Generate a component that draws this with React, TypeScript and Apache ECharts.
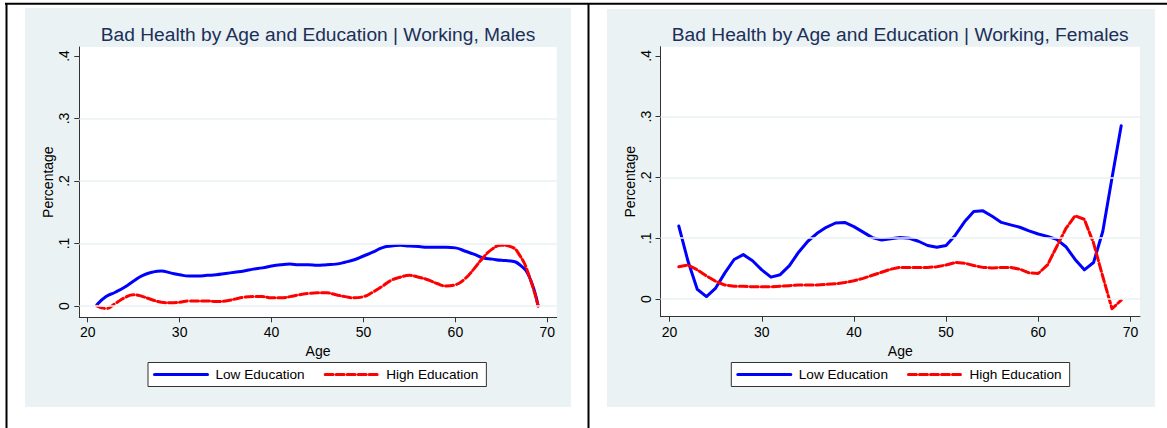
import React, { useEffect, useRef } from 'react';
import * as echarts from 'echarts';

const ages = [
  21, 22, 23, 24, 25, 26, 27, 28, 29, 30, 31, 32, 33, 34, 35, 36, 37, 38, 39, 40, 41, 42, 43, 44, 45,
  46, 47, 48, 49, 50, 51, 52, 53, 54, 55, 56, 57, 58, 59, 60, 61, 62, 63, 64, 65, 66, 67, 68, 69,
];

const maleLow = [
  0.002, 0.015, 0.022, 0.03, 0.04, 0.049, 0.054, 0.056, 0.053, 0.05, 0.048, 0.048, 0.049, 0.05, 0.052,
  0.054, 0.056, 0.059, 0.061, 0.064, 0.066, 0.067, 0.066, 0.066, 0.065, 0.066, 0.067, 0.07, 0.074, 0.08,
  0.086, 0.093, 0.096, 0.097, 0.096, 0.095, 0.094, 0.094, 0.094, 0.093, 0.088, 0.083, 0.077, 0.075,
  0.073, 0.072, 0.066, 0.048, 0.0,
];
const maleHigh = [
  0.0, -0.004, 0.004, 0.013, 0.018, 0.015, 0.01, 0.006, 0.005, 0.006, 0.008, 0.008, 0.008, 0.007, 0.008,
  0.011, 0.014, 0.015, 0.015, 0.013, 0.013, 0.015, 0.018, 0.02, 0.021, 0.021, 0.018, 0.015, 0.013, 0.015,
  0.022, 0.031, 0.041, 0.046, 0.049, 0.046, 0.042, 0.036, 0.032, 0.034, 0.043, 0.059, 0.077, 0.091,
  0.097, 0.095, 0.081, 0.049, 0.0,
];
const femaleLow = [
  0.12, 0.062, 0.016, 0.004, 0.018, 0.043, 0.065, 0.073, 0.063, 0.048, 0.036, 0.04, 0.055, 0.077, 0.095,
  0.108, 0.118, 0.125, 0.126, 0.119, 0.11, 0.101, 0.097, 0.099, 0.101, 0.1, 0.095, 0.088, 0.085, 0.088,
  0.105, 0.127, 0.144, 0.145, 0.136, 0.126, 0.122, 0.118, 0.112, 0.107, 0.103, 0.098, 0.086, 0.065,
  0.048, 0.06, 0.111, 0.199, 0.285,
];
const femaleHigh = [
  0.053, 0.056, 0.048, 0.038, 0.029, 0.023, 0.021, 0.021, 0.02, 0.02, 0.02, 0.021, 0.022, 0.023, 0.023,
  0.023, 0.024, 0.025, 0.027, 0.03, 0.034, 0.039, 0.044, 0.049, 0.052, 0.052, 0.052, 0.052, 0.053, 0.056,
  0.06, 0.059, 0.055, 0.052, 0.051, 0.052, 0.052, 0.049, 0.043, 0.042, 0.056, 0.086, 0.116, 0.137,
  0.131, 0.092, 0.037, -0.016, -0.002,
];

const xTicks = [20, 30, 40, 50, 60, 70];
const yTicks = [0, 0.1, 0.2, 0.3, 0.4];
const gridLines = [0, 0.1, 0.2, 0.3];
const titles = [
  'Bad Health by Age and Education | Working, Males',
  'Bad Health by Age and Education | Working, Females',
];
const seriesNames = ['Low Education', 'High Education'];

const FONT = "'Liberation Sans', Arial, sans-serif";
const BG = '#EAF2F3';
const AXIS = '#333';

const App = () => {
  const chartRef = useRef(null);

  useEffect(() => {
    const chart = echarts.init(chartRef.current, null, { renderer: 'svg' });

    // plot regions, in page pixels
    const panels = [
      { left: 79.3, top: 47, width: 477.4, height: 270.3, xMin: 19.086, xMax: 71.02, yMin: -0.0181, yMax: 0.4144 },
      { left: 660.5, top: 46.7, width: 479.5, height: 270, xMin: 19.013, xMax: 71.04, yMin: -0.0291, yMax: 0.415 },
    ];

    const yFmt = (v) => (v === 0 ? '0' : String(v).replace(/^0\./, '.'));

    const pair = (ys) => ages.map((a, i) => [a, ys[i]]);
    const lineSeries = (name, idx, ys, smooth) => ({
      name,
      type: 'line',
      xAxisIndex: idx,
      yAxisIndex: idx,
      data: pair(ys),
      symbol: 'none',
      smooth,
      z: 3,
      lineStyle: {
        color: name === 'Low Education' ? '#0000FF' : '#FF0000',
        width: 3,
        type: name === 'Low Education' ? 'solid' : [8, 3],
        cap: 'round',
        join: 'round',
      },
      itemStyle: { color: name === 'Low Education' ? '#0000FF' : '#FF0000' },
    });
    const gridSeries = (idx) => ({
      type: 'line',
      xAxisIndex: idx,
      yAxisIndex: idx,
      data: [],
      z: 1,
      silent: true,
      markLine: {
        silent: true,
        symbol: ['none', 'none'],
        label: { show: false },
        lineStyle: { color: BG, width: 1.5, type: 'solid' },
        data: gridLines.map((v) => ({ yAxis: v })),
      },
    });

    const option = {
      animation: false,
      textStyle: { fontFamily: FONT },
      title: panels.map((p, i) => ({
        text: titles[i],
        left: p.left + p.width / 2,
        top: 25,
        textAlign: 'center',
        padding: 0,
        textStyle: { fontSize: 19.2, fontWeight: 'normal', color: '#1c2f5a', fontFamily: FONT },
      })),
      legend: panels.map((p, i) => ({
        data: seriesNames,
        left: i === 0 ? 148 : 731.3,
        top: 362.5,
        orient: 'horizontal',
        itemWidth: 53,
        itemHeight: 14,
        itemGap: 19,
        padding: [5, 8, 5, 5],
        borderColor: AXIS,
        borderWidth: 1,
        borderRadius: 0,
        backgroundColor: '#fff',
        selectedMode: false,
        itemStyle: { opacity: 0 },
        lineStyle: { width: 3 },
        textStyle: { fontSize: 13.6, color: '#000', fontFamily: FONT, padding: [0, 0, 0, 3] },
      })),
      grid: panels.map((p) => ({
        left: p.left,
        top: p.top,
        width: p.width,
        height: p.height,
        show: true,
        backgroundColor: '#fff',
        borderWidth: 0,
      })),
      xAxis: panels.map((p, i) => ({
        type: 'value',
        gridIndex: i,
        min: p.xMin,
        max: p.xMax,
        name: 'Age',
        nameLocation: 'middle',
        nameGap: 18,
        nameTextStyle: { fontSize: 14, color: '#000', fontFamily: FONT },
        axisLine: { show: true, onZero: false, lineStyle: { color: AXIS, width: 1 } },
        axisTick: { show: true, length: 5, customValues: xTicks, lineStyle: { color: AXIS } },
        axisLabel: { customValues: xTicks, margin: 8, fontSize: 14, color: '#000', fontFamily: FONT },
        splitLine: { show: false },
      })),
      yAxis: panels.map((p, i) => ({
        type: 'value',
        gridIndex: i,
        min: p.yMin,
        max: p.yMax,
        name: 'Percentage',
        nameLocation: 'middle',
        nameRotate: 90,
        nameGap: 24,
        nameTextStyle: { fontSize: 14, color: '#000', fontFamily: FONT },
        axisLine: { show: true, onZero: false, lineStyle: { color: AXIS, width: 1 } },
        axisTick: { show: true, length: 5, customValues: yTicks, lineStyle: { color: AXIS } },
        axisLabel: {
          customValues: yTicks,
          rotate: 90,
          margin: 8,
          fontSize: 14,
          color: '#000',
          fontFamily: FONT,
          formatter: yFmt,
        },
        splitLine: { show: false },
      })),
      series: [
        gridSeries(0),
        gridSeries(1),
        lineSeries('Low Education', 0, maleLow, true),
        lineSeries('High Education', 0, maleHigh, true),
        lineSeries('Low Education', 1, femaleLow, false),
        lineSeries('High Education', 1, femaleHigh, false),
      ],
      graphic: [
        { type: 'rect', z: -10, shape: { x: 25, y: 8, width: 546, height: 399 }, style: { fill: BG } },
        { type: 'rect', z: -10, shape: { x: 607, y: 9, width: 548, height: 398 }, style: { fill: BG } },
        { type: 'line', z: 10, shape: { x1: 5, y1: 3.7, x2: 1167, y2: 3.7 }, style: { stroke: '#000', lineWidth: 2 } },
        { type: 'line', z: 10, shape: { x1: 6.5, y1: 3, x2: 6.5, y2: 428 }, style: { stroke: '#000', lineWidth: 2 } },
        { type: 'line', z: 10, shape: { x1: 588.5, y1: 3, x2: 588.5, y2: 428 }, style: { stroke: '#000', lineWidth: 2 } },
      ],
    };

    chart.setOption(option);

    return () => {
      chart.dispose();
    };
  }, []);

  return (
    <div
      ref={chartRef}
      style={{ position: 'fixed', left: 0, top: 0, width: '1167px', height: '428px', background: '#fff' }}
    />
  );
};

export default App;
